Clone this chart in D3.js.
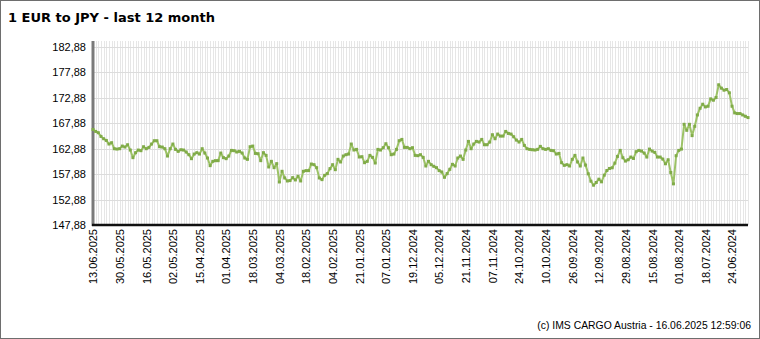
<!DOCTYPE html>
<html>
<head>
<meta charset="utf-8">
<script src="https://cdn.jsdelivr.net/npm/d3@7"></script>
<style>
  html, body { margin: 0; padding: 0; background: #fff; }
  svg { display: block; }
</style>
</head>
<body>
<svg id="chart" width="760" height="339"></svg>
<script>
// ---- data (newest first, one value per business day) ----
const title = "1 EUR to JPY - last 12 month";
const footer = "(c) IMS CARGO Austria - 16.06.2025 12:59:06";

const rates = [
  166.67,166.28,166.02,165.30,164.84,164.51,163.80,164.06,162.88,162.81,
  162.88,163.40,163.21,163.66,162.62,161.12,162.10,162.62,162.49,163.27,
  162.88,163.14,163.80,164.45,164.45,163.27,163.21,162.88,161.44,162.88,
  163.80,162.75,162.36,162.68,162.62,162.23,161.70,160.92,161.83,162.10,
  161.83,162.88,162.03,161.05,159.55,160.40,160.53,160.53,162.03,161.12,
  160.92,161.44,162.55,162.49,162.23,162.36,162.03,161.05,160.79,163.27,
  163.40,161.96,161.90,160.53,162.10,161.57,159.29,160.40,159.15,159.94,
  156.34,158.44,157.13,156.54,156.61,157.19,156.74,157.46,156.54,158.44,
  158.57,158.57,159.87,159.74,159.15,157.13,156.80,157.65,157.98,158.96,
  159.74,158.76,160.79,160.27,161.44,161.70,161.83,163.80,162.62,162.75,
  161.25,161.31,160.13,160.40,161.57,161.18,160.07,162.75,162.62,163.08,
  163.86,163.08,161.70,161.83,162.75,164.45,164.71,163.14,163.14,162.88,
  163.08,161.57,161.51,161.70,161.18,159.48,160.40,159.74,159.42,159.15,
  158.57,158.30,157.26,157.98,158.83,159.81,159.48,161.05,161.44,160.79,
  162.62,164.32,162.88,163.80,164.32,164.19,164.71,163.66,163.66,164.19,
  165.63,164.84,165.76,165.36,165.36,166.28,165.89,165.76,165.23,164.58,
  164.19,164.71,163.53,162.88,162.75,162.68,162.62,162.75,163.34,162.88,
  162.75,162.88,162.55,162.49,161.83,161.96,160.13,159.61,159.74,159.48,
  160.79,161.57,160.27,159.48,161.05,159.66,157.95,156.50,155.71,156.24,
  156.89,156.37,157.68,158.60,159.00,159.13,160.05,161.37,162.55,161.10,
  160.45,160.71,161.24,160.97,162.29,162.55,162.42,162.02,161.24,162.81,
  162.42,162.16,161.24,161.24,160.84,159.92,160.71,158.21,155.97,161.50,
  162.55,162.81,167.68,166.50,167.68,165.45,167.29,169.52,170.84,171.63,
  171.10,171.24,172.68,172.42,172.95,175.45,174.79,174.39,174.52,173.87,
  171.24,169.92,169.79,169.79,169.52,169.26,169.00
];

// labelled points: every 10th business day
const tickIndex = [0,10,20,30,40,50,60,70,80,90,100,110,120,130,140,150,160,170,180,190,200,210,220,230,240];
const tickLabels = [
  "13.06.2025","30.05.2025","16.05.2025","02.05.2025","15.04.2025","01.04.2025",
  "18.03.2025","04.03.2025","18.02.2025","04.02.2025","21.01.2025","07.01.2025",
  "19.12.2024","05.12.2024","21.11.2024","07.11.2024","24.10.2024","10.10.2024",
  "26.09.2024","12.09.2024","29.08.2024","15.08.2024","01.08.2024","18.07.2024",
  "24.06.2024"
];
const yTicks = [147.88,152.88,157.88,162.88,167.88,172.88,177.88,182.88];

// ---- layout ----
const W = 760, H = 339;
const plot = { left: 93, right: 748, top: 41, bottom: 225 };

const svg = d3.select("#chart");

// outer border
svg.append("rect")
  .attr("x", 0.5).attr("y", 0.5).attr("width", W - 1).attr("height", H - 1)
  .attr("fill", "#fff").attr("stroke", "#6e6e6e").attr("stroke-width", 1);

// title
svg.append("text")
  .attr("x", 8).attr("y", 22)
  .attr("font-family", "DejaVu Sans, Verdana, sans-serif")
  .attr("font-weight", "bold").attr("font-size", 13)
  .attr("fill", "#000")
  .text(title);

const x = d3.scaleLinear().domain([0, rates.length - 1]).range([plot.left, plot.right]);
const y = d3.scaleLinear().domain([147.88, 182.88]).range([plot.bottom, 47]);

// vertical gridlines, one per data point
svg.append("g")
  .selectAll("line")
  .data(d3.range(rates.length))
  .join("line")
  .attr("x1", d => Math.round(x(d)) + 0.5).attr("x2", d => Math.round(x(d)) + 0.5)
  .attr("y1", plot.top).attr("y2", plot.bottom)
  .attr("stroke", "#e6e6e6").attr("stroke-width", 1);

// horizontal gridlines
svg.append("g")
  .selectAll("line")
  .data(yTicks)
  .join("line")
  .attr("x1", plot.left).attr("x2", plot.right)
  .attr("y1", d => Math.round(y(d)) + 0.5).attr("y2", d => Math.round(y(d)) + 0.5)
  .attr("stroke", "#dcdcdc").attr("stroke-width", 1);

// y axis labels
const fmt = d => d3.format(".2f")(d).replace(".", ",");
const yAxis = d3.axisLeft(y).tickValues(yTicks).tickFormat(fmt).tickSize(0).tickPadding(7);
const gy = svg.append("g").attr("transform", `translate(${plot.left},0)`).call(yAxis);
gy.select(".domain").remove();
gy.selectAll("text")
  .attr("font-family", "Liberation Sans, Arial, sans-serif")
  .attr("font-size", 11).attr("fill", "#000");

// x axis labels
const xAxis = d3.axisBottom(x).tickValues(tickIndex)
  .tickFormat((d, i) => tickLabels[i]).tickSize(0);
const gx = svg.append("g").attr("transform", `translate(0,${plot.bottom})`).call(xAxis);
gx.select(".domain").remove();
gx.selectAll("text")
  .attr("font-family", "Liberation Sans, Arial, sans-serif")
  .attr("font-size", 11).attr("fill", "#000")
  .attr("text-anchor", "end")
  .attr("dy", "0.35em")
  .attr("transform", "translate(0,4) rotate(-90)")
  .attr("x", 0).attr("y", 0);

// axis lines
svg.append("line")
  .attr("x1", plot.left).attr("x2", plot.left)
  .attr("y1", plot.top).attr("y2", plot.bottom + 1)
  .attr("stroke", "#7a7a7a").attr("stroke-width", 3);
svg.append("line")
  .attr("x1", plot.left - 1).attr("x2", plot.right)
  .attr("y1", plot.bottom).attr("y2", plot.bottom)
  .attr("stroke", "#111").attr("stroke-width", 2.5);

// series line
const line = d3.line().x((d, i) => x(i)).y(d => y(d));
svg.append("path")
  .datum(rates)
  .attr("d", line)
  .attr("fill", "none")
  .attr("stroke", "#9cc266").attr("stroke-width", 2)
  .attr("stroke-linejoin", "round");

// markers
svg.append("g")
  .selectAll("rect")
  .data(rates)
  .join("rect")
  .attr("x", (d, i) => x(i) - 1.5).attr("y", d => y(d) - 1.5)
  .attr("width", 3).attr("height", 3)
  .attr("fill", "#80ab48");

// footer
svg.append("text")
  .attr("x", 751).attr("y", 329)
  .attr("text-anchor", "end")
  .attr("font-family", "Liberation Sans, Arial, sans-serif")
  .attr("font-size", 10.4).attr("fill", "#000")
  .text(footer);
</script>
</body>
</html>
